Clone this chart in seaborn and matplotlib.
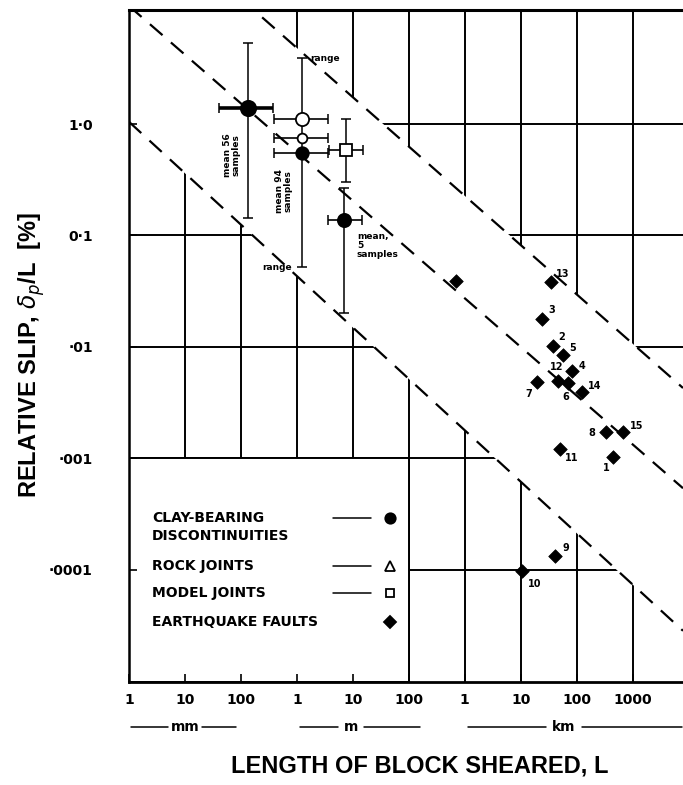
import numpy as np
import pandas as pd
import matplotlib
matplotlib.use("Agg")
import matplotlib.pyplot as plt
import seaborn as sns
from matplotlib.transforms import blended_transform_factory
from matplotlib.patches import Rectangle

# ---------------- data ----------------
# Earthquake faults (length in km, relative slip in %); id 0 = unlabeled point
fault_id = [1, 2, 3, 4, 5, 6, 7, 8, 9, 10, 11, 12, 13, 14, 15, 0]
fault_length_km = [450, 37, 24.5, 81, 56, 69, 19.5, 330, 41, 10.5, 51, 46, 34.7, 123, 680, 0.69]
fault_slip_pct = [0.00102, 0.0101, 0.0178, 0.0060, 0.0085, 0.0047, 0.0048, 0.0017,
                  0.000132, 0.0000977, 0.0012, 0.0049, 0.038, 0.0039, 0.0017, 0.039]

# Laboratory tests (length in mm, relative slip in %)
lab_name = ["clay56", "open_big", "open_small", "clay94", "model", "clay5"]
lab_L_mm = [133, 1230, 1230, 1230, 7500, 6900]
lab_L_lo_mm = [40, 390, 390, 390, 3700, 3560]
lab_L_hi_mm = [373, 3560, 3560, 3560, 15000, 14500]
lab_slip_pct = [1.39, 1.11, 0.75, 0.55, 0.58, 0.137]
lab_slip_lo_pct = [0.143, np.nan, np.nan, np.nan, 0.30, 0.020]
lab_slip_hi_pct = [5.3, np.nan, np.nan, np.nan, 1.1, 0.266]

# range of the 94-sample set
range94_L_mm = 1230
range94_lo_pct = 0.052
range94_hi_pct = 3.9

# dashed bounding lines: (x0, x1) in mm, (y0, y1) in %
bound_upper_x = [10**2.23, 10**9.9]
bound_upper_y = [10**1.024, 10**-2.37]
bound_mid_x = [1, 10**9.9]
bound_mid_y = [10**1.06, 10**-3.27]
bound_low_x = [1, 10**9.9]
bound_low_y = [10**0.02, 10**-4.55]

# axis ticks
x_ticks_mm = [1, 10, 100, 1e3, 1e4, 1e5, 1e6, 1e7, 1e8, 1e9]
x_tick_labels = ["1", "10", "100", "1", "10", "100", "1", "10", "100", "1000"]
y_ticks = [1, 0.1, 0.01, 0.001, 0.0001]
y_tick_labels = ["1·0", "0·1", "·01", "·001", "·0001"]
unit_names = ["mm", "m", "km"]

legend_labels = ["CLAY-BEARING\nDISCONTINUITIES", "ROCK JOINTS", "MODEL JOINTS", "EARTHQUAKE FAULTS"]

# ---------------- layout / style ----------------
W, H = 683, 785
sns.set_style("white")
plt.rcParams["font.family"] = ["DejaVu Sans"]
plt.rcParams["mathtext.fontset"] = "dejavusans"
for key in ("text.color", "axes.labelcolor", "xtick.color", "ytick.color", "axes.edgecolor"):
    plt.rcParams[key] = "black"

fig = plt.figure(figsize=(W / 100, H / 100), dpi=100)
ax = fig.add_axes([129 / W, 1 - 682 / H, (W - 129) / W, (682 - 10) / H])
ax.set_xscale("log")
ax.set_yscale("log")
XMIN, XMAX = 1, 10**9.9
YMIN, YMAX = 10**-5.01, 10**1.024
ax.set_xlim(XMIN, XMAX)
ax.set_ylim(YMIN, YMAX)


def fpx(x, y):
    return x / W, 1 - y / H


def loglin(xs, ys):
    lx = np.log10(xs)
    ly = np.log10(ys)
    m = (ly[1] - ly[0]) / (lx[1] - lx[0])
    return lambda x: 10 ** (ly[0] + m * (np.log10(x) - lx[0]))


upper = loglin(bound_upper_x, bound_upper_y)
lower = loglin(bound_low_x, bound_low_y)
mid = loglin(bound_mid_x, bound_mid_y)

GRID_LW = 1.4
for xv in x_ticks_mm:
    ax.axvline(xv, color="black", lw=GRID_LW, zorder=0.5)
for yv in y_ticks:
    ax.axhline(yv, color="black", lw=GRID_LW, zorder=0.5)

# blank band between the outer dashed lines
xx = np.geomspace(XMIN, XMAX, 400)
ax.fill_between(xx, lower(xx), upper(xx), color="white", zorder=1, lw=0)
# legend box (below .001, left of 100 m)
ax.add_patch(Rectangle((XMIN, YMIN), 1e5 - XMIN, 1e-3 - YMIN, facecolor="white",
                       edgecolor="black", lw=GRID_LW, zorder=1))

# dashed lines
for f in (upper, mid, lower):
    ax.plot(xx, f(xx), color="black", lw=1.6, ls=(0, (7.5, 5)), zorder=2)

# lab points with error bars
lab_df = pd.DataFrame(dict(name=lab_name, L=lab_L_mm, L_lo=lab_L_lo_mm, L_hi=lab_L_hi_mm,
                           slip=lab_slip_pct, slip_lo=lab_slip_lo_pct, slip_hi=lab_slip_hi_pct))
lab_style = {
    "clay56": dict(marker="o", ms=11, mfc="black", xw=2.6),
    "open_big": dict(marker="o", ms=9.5, mfc="white", xw=1.2),
    "open_small": dict(marker="o", ms=7, mfc="white", xw=1.2),
    "clay94": dict(marker="o", ms=9, mfc="black", xw=1.2),
    "model": dict(marker="s", ms=8, mfc="white", xw=1.2),
    "clay5": dict(marker="o", ms=9.5, mfc="black", xw=1.2),
}

ax.errorbar([range94_L_mm], [range94_lo_pct], yerr=[[0], [range94_hi_pct - range94_lo_pct]],
            fmt="none", ecolor="black", elinewidth=1.1, capsize=3.5, capthick=1.1, zorder=3)

for r in lab_df.itertuples():
    st = lab_style[r.name]
    ax.errorbar([r.L], [r.slip], xerr=[[r.L - r.L_lo], [r.L_hi - r.L]], fmt="none",
                ecolor="black", elinewidth=st["xw"], capsize=3.5, capthick=1.1, zorder=3)
    if not np.isnan(r.slip_lo):
        ax.errorbar([r.L], [r.slip], yerr=[[r.slip - r.slip_lo], [r.slip_hi - r.slip]], fmt="none",
                    ecolor="black", elinewidth=1.1, capsize=3.5, capthick=1.1, zorder=3)
    ax.plot([r.L], [r.slip], marker=st["marker"], ms=st["ms"], mfc=st["mfc"], mec="black",
            mew=1.3, ls="none", zorder=4)

# earthquake faults via seaborn
fault_df = pd.DataFrame(dict(fid=fault_id, L=np.array(fault_length_km) * 1e6, slip=fault_slip_pct))
sns.scatterplot(data=fault_df, x="L", y="slip", marker="D", s=48, color="black",
                edgecolor="black", linewidth=0.5, ax=ax, zorder=4, legend=False)

label_offsets = {13: (12, 8), 3: (9, 9), 2: (9, 9), 5: (10, 7), 4: (10, 5), 12: (-1, 14),
                 6: (-2, -14), 7: (-8, -12), 14: (13, 6), 8: (-14, -1), 15: (13, 6),
                 11: (11, -9), 1: (-7, -11), 10: (13, -13), 9: (11, 8)}
for r in fault_df.itertuples():
    if r.fid in label_offsets:
        ax.annotate(str(r.fid), (r.L, r.slip), xytext=label_offsets[r.fid],
                    textcoords="offset pixels", ha="center", va="center",
                    fontsize=7, fontweight="bold", zorder=5)

# annotations on lab data
small = dict(fontsize=6.5, fontweight="bold", zorder=5)
ax.annotate("range", (range94_L_mm, range94_hi_pct), xytext=(8, 0), textcoords="offset pixels",
            ha="left", va="center", **small)
ax.annotate("range", (range94_L_mm, range94_lo_pct), xytext=(-10, 0), textcoords="offset pixels",
            ha="right", va="center", **small)
ax.annotate("mean 56\nsamples", (lab_L_mm[0], lab_slip_pct[0]), xytext=(-16, -47),
            textcoords="offset pixels", ha="center", va="center", rotation=90,
            linespacing=1.0, **small)
ax.annotate("mean 94\nsamples", (lab_L_mm[3], lab_slip_pct[3]), xytext=(-18, -38),
            textcoords="offset pixels", ha="center", va="center", rotation=90,
            linespacing=1.0, **small)
ax.annotate("mean,\n5\nsamples", (lab_L_mm[5], lab_slip_pct[5]), xytext=(13, -12),
            textcoords="offset pixels", ha="left", va="top", linespacing=1.0, **small)

# axes styling
ax.set_xticks(x_ticks_mm)
ax.set_xticklabels(x_tick_labels, fontsize=10, fontweight="bold")
ax.set_yticks(y_ticks)
ax.set_yticklabels(y_tick_labels, fontsize=10, fontweight="bold")
ax.minorticks_off()
ax.tick_params(axis="x", direction="in", length=6, width=1.2, pad=8, bottom=True, top=False,
               colors="black")
ax.tick_params(axis="y", direction="in", length=6, width=1.2, pad=26, left=True, right=False,
               colors="black")
ax.set_xlabel("")
ax.set_ylabel("")
ax.spines["right"].set_visible(False)
ax.spines["top"].set_linewidth(2.2)
ax.spines["left"].set_linewidth(1.8)
ax.spines["bottom"].set_linewidth(2.0)
for s in ax.spines.values():
    s.set_color("black")
ax.set_axisbelow(False)

# unit row under the tick labels
trans = blended_transform_factory(ax.transData, ax.transAxes)
unit_centers = [10, 10**3.96, 10**7.77]
unit_lines = [[(10**0.04, 10**0.70), (10**1.30, 10**1.91)],
              [(10**3.05, 10**3.74), (10**4.20, 10**5.2)],
              [(10**6.05, 10**7.45), (10**8.10, 10**9.89)]]
UNIT_Y = -0.067
for name, cx, segs in zip(unit_names, unit_centers, unit_lines):
    ax.text(cx, UNIT_Y, name, transform=trans, ha="center", va="center",
            fontsize=10, fontweight="bold", clip_on=False)
    for a, b in segs:
        ax.plot([a, b], [UNIT_Y, UNIT_Y], transform=trans, color="black", lw=1.1, clip_on=False)

# legend (drawn inside the blank box)
leg_font = dict(fontsize=10, fontweight="bold", va="center", ha="left", zorder=6)
leg_rows_y = [518, 566, 593, 622]
fig.text(*fpx(152, 527), legend_labels[0], linespacing=1.3, **leg_font)
for lab, yy in zip(legend_labels[1:], leg_rows_y[1:]):
    fig.text(*fpx(152, yy), lab, **leg_font)
leg_markers = [dict(marker="o", ms=7.5, mfc="black"), dict(marker="^", ms=6.5, mfc="white"),
               dict(marker="s", ms=6, mfc="white"), dict(marker="D", ms=6, mfc="black")]
for i, (yy, mk) in enumerate(zip(leg_rows_y, leg_markers)):
    if i < 3:
        x0, y0 = fpx(333, yy)
        x1, _ = fpx(371, yy)
        ax.plot([x0, x1], [y0, y0], transform=fig.transFigure, color="black", lw=1.1,
                clip_on=False, zorder=6)
    mx, my = fpx(390, yy)
    ax.plot([mx], [my], transform=fig.transFigure, ls="none", mec="black", mew=1.3,
            clip_on=False, zorder=6, **mk)

# axis titles
fig.text(*fpx(32, 355), r"RELATIVE SLIP, $\delta_p$/L  [%]", rotation=90, ha="center", va="center",
         fontsize=17, fontweight="bold", family=["Liberation Sans", "DejaVu Sans"])
fig.text(*fpx(420, 766), "LENGTH OF BLOCK SHEARED, L", ha="center", va="center",
         fontsize=17, fontweight="bold", family=["Liberation Sans", "DejaVu Sans"])

fig.savefig("out.png", dpi=100)
